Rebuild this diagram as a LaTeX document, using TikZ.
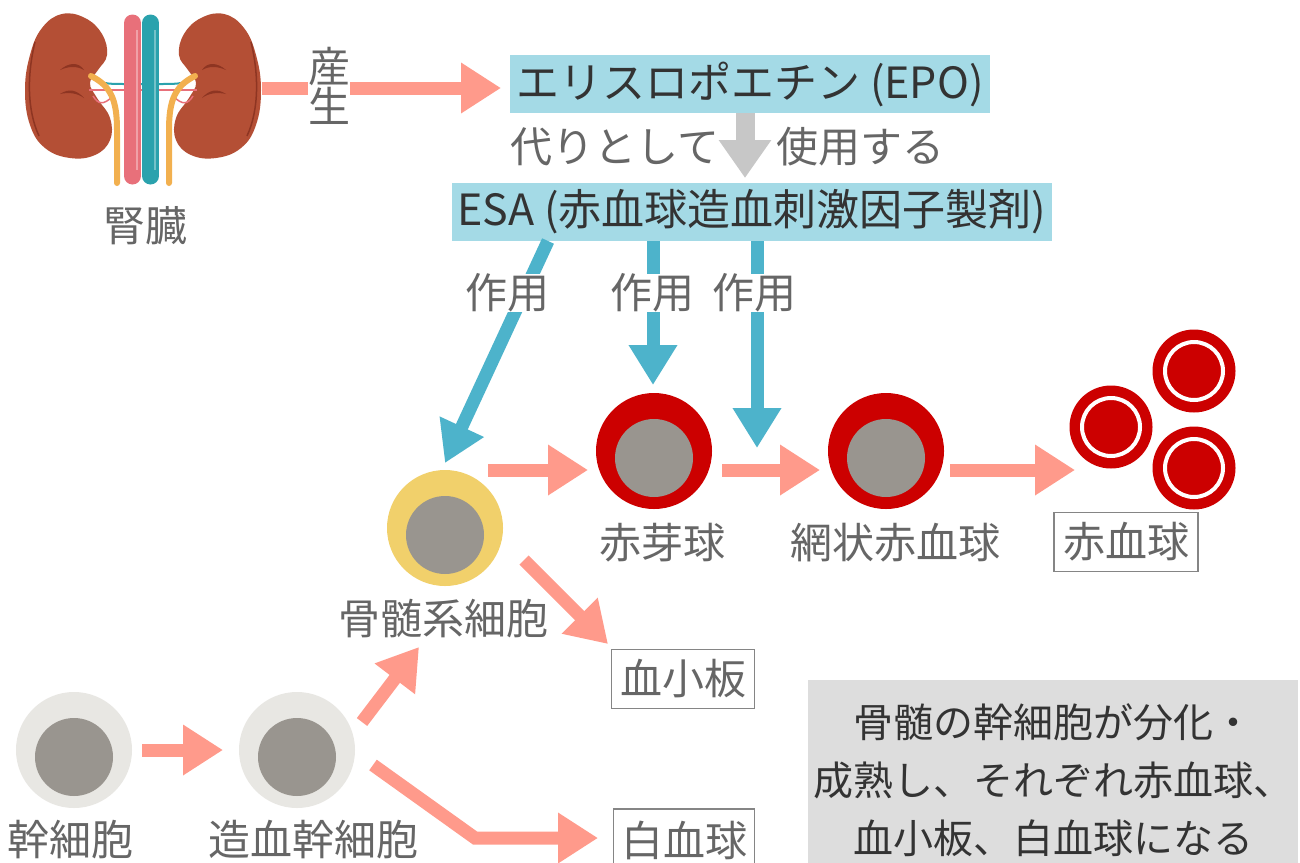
\documentclass[tikz,border=0pt]{standalone}
\usepackage{fontspec}
\setmainfont{Noto Sans CJK JP}
\usetikzlibrary{arrows.meta}

\definecolor{arrowpink}{HTML}{FF9A8B}
\definecolor{esablue}{HTML}{4DB3CB}
\definecolor{boxblue}{HTML}{A4DAE6}
\definecolor{lblgray}{HTML}{666666}
\definecolor{txtdark}{HTML}{333333}
\definecolor{notegray}{HTML}{DDDDDD}
\definecolor{cellred}{HTML}{CC0000}
\definecolor{cellyellow}{HTML}{F1D06B}
\definecolor{celllight}{HTML}{E8E7E3}
\definecolor{nucleus}{HTML}{99958F}
\definecolor{kidneybrown}{HTML}{B44F35}
\definecolor{kidneydark}{HTML}{8E3522}
\definecolor{veinpink}{HTML}{E8707A}
\definecolor{veinteal}{HTML}{2AA2AD}
\definecolor{ureter}{HTML}{F2B04F}

% one kidney, the other is mirrored
\newcommand{\kidneypath}{plot[smooth cycle,tension=0.7] coordinates {(62,14) (85,18) (102,34) (107,55) (98,70) (90,83) (97,98) (110,118) (110,140) (95,155) (70,158) (45,148) (30,125) (25,90) (30,55) (42,28)}}

% cell: ring, then nucleus a bit lower
\newcommand{\cell}[4]{%
  \node[circle,fill=#3,minimum size=116pt,inner sep=0pt] (#1) at #2 {};
  \fill[#4] ([yshift=-7pt]#1.center) circle (39pt);}

\tikzset{
  lbl/.style={text=lblgray,inner sep=0pt,font=\fontsize{42}{48}\selectfont},
  boxlbl/.style={lbl,draw=lblgray!80,line width=1.5pt,minimum height=59pt},
  pinkarrow/.style={draw=arrowpink,line width=13pt,-{Triangle[length=40pt,width=48pt]}},
  bluearrow/.style={draw=esablue,line width=13pt,-{Triangle[length=40pt,width=46pt]}},
  grayarrow/.style={draw=black!22,line width=19pt,-{Triangle[length=38pt,width=50pt]}},
  drugbox/.style={fill=boxblue,text=txtdark,inner sep=0pt,minimum height=58pt,font=\fontsize{43}{48}\selectfont},
}

\begin{document}
\begin{tikzpicture}[x=1pt,y=-1pt]
\useasboundingbox[fill=white] (0,0) rectangle (1300,862);

%KIDNEYS
\fill[kidneybrown] \kidneypath;
\begin{scope}[shift={(286,0)},xscale=-1]
  \fill[kidneybrown] \kidneypath;
\end{scope}
\foreach \s in {1,-1}{
  \begin{scope}[shift={(143,0)},xscale=\s]
    \fill[kidneydark] (-83,70) .. controls (-74,62) and (-64,62) .. (-59,70) .. controls (-66,66) and (-74,66) .. cycle;
    \fill[kidneydark] (-83,94) .. controls (-74,88) and (-66,90) .. (-59,98) .. controls (-66,93) and (-74,92) .. cycle;
    \draw[kidneydark,line width=1.5pt] (-108,42) .. controls (-116,75) and (-116,110) .. (-104,136);
    % small vessels at the hilum
    \draw[veinteal,line width=2pt] (-53,74) .. controls (-45,84) and (-35,84) .. (-20,84) -- (0,84);
    \draw[veinpink,line width=2pt] (-54,90) -- (0,90);
    \draw[veinpink,line width=1.5pt] (-50,96) .. controls (-45,104) and (-40,106) .. (-30,96);
    % ureter
    \draw[ureter,line width=6pt,line cap=round] (-52,76) .. controls (-32,86) and (-26,100) .. (-26,130) -- (-26,183);
  \end{scope}
}
\draw[veinpink,line width=17pt,line cap=round] (132.5,23) -- (132.5,176);
\draw[veinteal,line width=17pt,line cap=round] (150.5,23) -- (150.5,176);
\draw[white,opacity=0.35,line width=2pt] (137,30) -- (137,170);
\draw[white,opacity=0.35,line width=2pt] (155,30) -- (155,170);
\node[lbl] (kidney) at (145,226) {腎臓};

%EPO AND ESA
\node[drugbox,minimum width=480pt] (epo) at (750,84) {エリスロポエチン (EPO)};
\node[drugbox,minimum width=600pt] (esa) at (752,212) {ESA (赤血球造血刺激因子製剤)};

\coordinate (kidneyout) at (262,88);
\coordinate (epoin) at (501,88);
\draw[pinkarrow] (kidneyout) -- (epoin);
\node[lbl,fill=white,align=center,font=\fontsize{42}{40}\selectfont] (prod) at (329,86) {産\\生};

\coordinate (epoout) at (745,113);
\coordinate (esain) at (745,178);
\draw[grayarrow] (epoout) -- (esain);
\node[lbl] (instead) at (615,147) {代りとして};
\node[lbl] (use) at (860,147) {使用する};

%CELLS
\cell{stem}{(74,750)}{celllight}{nucleus}
\cell{hsc}{(297,750)}{celllight}{nucleus}
\cell{bm}{(445,528)}{cellyellow}{nucleus}
\cell{ebl}{(654,451)}{cellred}{nucleus}
\cell{ret}{(886,451)}{cellred}{nucleus}
\foreach \n/\p in {rbca/{(1194,371)},rbcb/{(1111,427)},rbcc/{(1194,468)}}{
  \node[circle,fill=cellred,minimum size=83pt,inner sep=0pt] (\n) at \p {};
  \draw[white,line width=4pt] (\n.center) circle (29pt);
}

\node[lbl] (stemlbl) at (70,840) {幹細胞};
\node[lbl] (hsclbl) at (313,840) {造血幹細胞};
\node[lbl] (bmlbl) at (443,619) {骨髄系細胞};
\node[lbl] (ebllbl) at (662,543) {赤芽球};
\node[lbl] (retlbl) at (895,543) {網状赤血球};
\node[boxlbl,minimum width=144pt] (rbclbl) at (1126,542) {赤血球};
\node[boxlbl,minimum width=143pt] (pltlbl) at (683,679) {血小板};
\node[boxlbl,minimum width=141pt,minimum height=62pt] (wbclbl) at (684,840) {白血球};

%ESA ACTS ON
\coordinate (esaa) at (548,241); \coordinate (bmin) at (445,463);
\coordinate (esab) at (653,241); \coordinate (eblin) at (653,385);
\coordinate (esac) at (757,241); \coordinate (retin) at (757,448);
\draw[bluearrow] (esaa) -- (bmin);
\draw[bluearrow] (esab) -- (eblin);
\draw[bluearrow] (esac) -- (retin);
\foreach \n/\x in {acta/507,actb/652,actc/754}
  \node[lbl,fill=white] (\n) at (\x,293) {作用};

%MATURATION
\draw[pinkarrow] (142,750) coordinate (stemout) -- (223,750) coordinate (hscin);
\draw[pinkarrow] (362,722) coordinate (hscup) -- (419,647) coordinate (bmbot);
\draw[pinkarrow] (373,765) coordinate (hscdown) -- (475,838) -- (598,838) coordinate (wbcin);
\draw[pinkarrow] (524,560) coordinate (bmout) -- (608,644) coordinate (pltin);
\draw[pinkarrow] (488,470) coordinate (bmright) -- (588,470) coordinate (eblleft);
\draw[pinkarrow] (722,470) coordinate (eblright) -- (820,470) coordinate (retleft);
\draw[pinkarrow] (950,470) coordinate (retright) -- (1075,470) coordinate (rbcleft);

%NOTE
\node[fill=notegray,text=txtdark,minimum width=490pt,minimum height=200pt,align=center,
  font=\fontsize{40}{58}\selectfont] (note) at (1053,780)
  {骨髄の幹細胞が分化・\\成熟し、それぞれ赤血球、\\血小板、白血球になる};
\end{tikzpicture}
\end{document}
